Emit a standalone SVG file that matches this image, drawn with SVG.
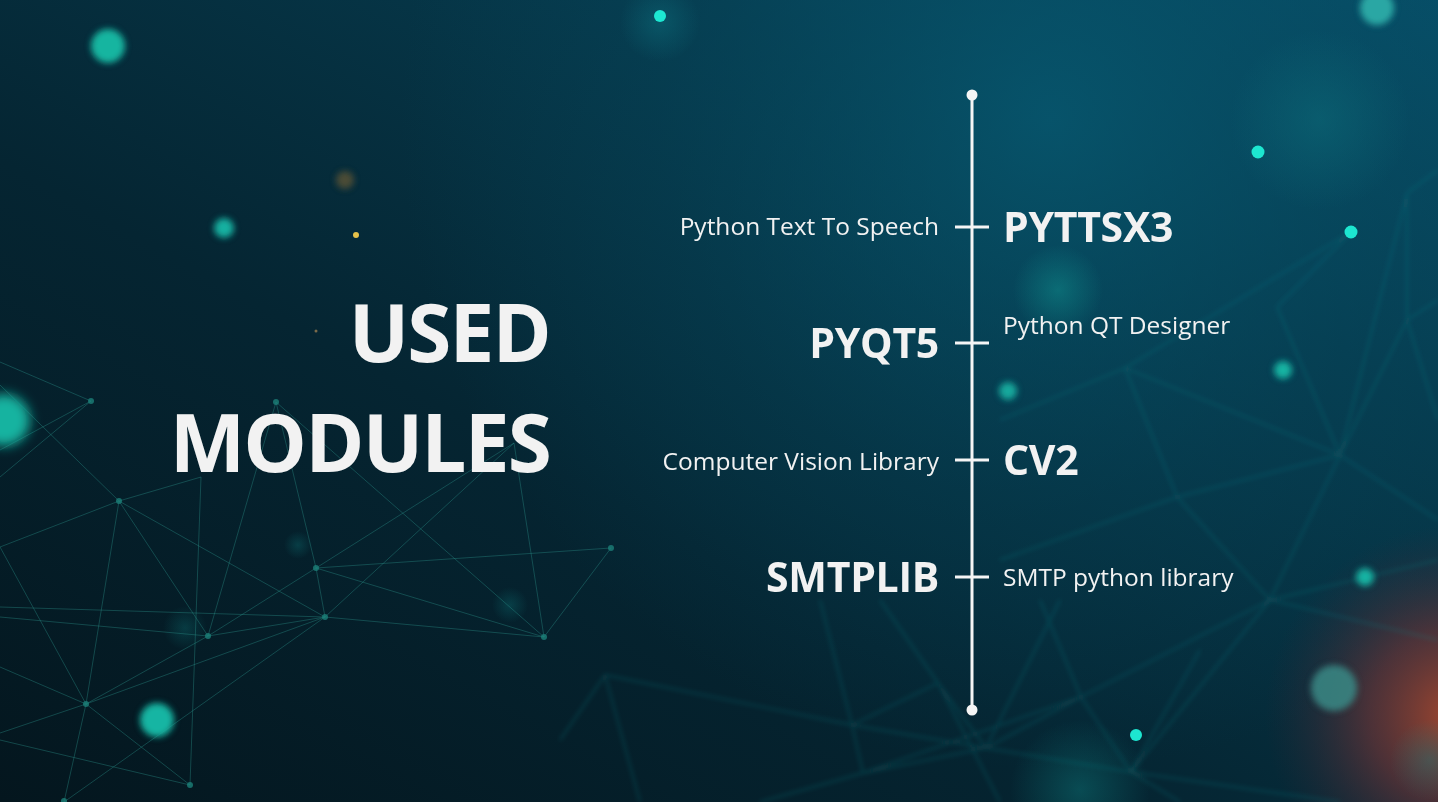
<svg xmlns="http://www.w3.org/2000/svg" width="1438" height="802" viewBox="0 0 1438 802">
  <defs>
    <linearGradient id="bgBase" x1="0" y1="1" x2="1" y2="0">
      <stop offset="0" stop-color="#04161e"/>
      <stop offset="0.4" stop-color="#052532"/>
      <stop offset="0.75" stop-color="#063b4e"/>
      <stop offset="1" stop-color="#07506a"/>
    </linearGradient>
    <radialGradient id="skyGlow" cx="1050" cy="120" r="650" gradientUnits="userSpaceOnUse">
      <stop offset="0" stop-color="#075a72" stop-opacity="0.75"/>
      <stop offset="0.6" stop-color="#064a60" stop-opacity="0.3"/>
      <stop offset="1" stop-color="#064a60" stop-opacity="0"/>
    </radialGradient>
    <radialGradient id="emberGlow" cx="1455" cy="715" r="190" gradientUnits="userSpaceOnUse">
      <stop offset="0" stop-color="#a8482e" stop-opacity="0.95"/>
      <stop offset="0.45" stop-color="#7a3434" stop-opacity="0.6"/>
      <stop offset="1" stop-color="#3a2535" stop-opacity="0"/>
    </radialGradient>
    <radialGradient id="haze" cx="0.5" cy="0.5" r="0.5">
      <stop offset="0" stop-color="#0f8a8a" stop-opacity="0.55"/>
      <stop offset="1" stop-color="#0f8a8a" stop-opacity="0"/>
    </radialGradient>
    <radialGradient id="hazeBlue" cx="0.5" cy="0.5" r="0.5">
      <stop offset="0" stop-color="#0c6a78" stop-opacity="0.55"/>
      <stop offset="1" stop-color="#0c6a78" stop-opacity="0"/>
    </radialGradient>
    <filter id="soft" x="-100%" y="-100%" width="300%" height="300%">
      <feGaussianBlur stdDeviation="3"/>
    </filter>
    <filter id="softer" x="-100%" y="-100%" width="300%" height="300%">
      <feGaussianBlur stdDeviation="6"/>
    </filter>
    <filter id="fuzz" x="-10%" y="-10%" width="120%" height="120%">
      <feGaussianBlur stdDeviation="2.2"/>
    </filter>
    <style>
      .net { stroke: #2a8f88; stroke-opacity: 0.4; stroke-width: 1; fill: none; }
      .net-far { stroke: #1f8a8c; stroke-opacity: 0.22; stroke-width: 2.4; fill: none; }
      .vertex { fill: #1c7f78; fill-opacity: 0.8; }
      .title { font-family: "Open Sans", "Liberation Sans", sans-serif; font-weight: 700; font-size: 80px; fill: #f2f2f2; text-anchor: end; letter-spacing: -1.8px; }
      .module { font-family: "Open Sans", "Liberation Sans", sans-serif; font-weight: 700; font-size: 41px; fill: #f2f2f2; letter-spacing: -0.3px; }
      .desc { font-family: "Open Sans", "Liberation Sans", sans-serif; font-size: 24.5px; fill: #f2f2f2; }
      .axis { stroke: #f5f5f5; stroke-width: 3; fill: none; }
      .tick { stroke: #f5f5f5; stroke-width: 3; }
      .cap { fill: #f5f5f5; }
    </style>
  </defs>

  <!-- backdrop -->
  <rect width="1438" height="802" fill="url(#bgBase)"/>
  <rect width="1438" height="802" fill="url(#skyGlow)"/>
  <rect width="1438" height="802" fill="url(#emberGlow)"/>

  <!-- soft haze blobs -->
  <circle cx="1320" cy="120" r="90" fill="url(#hazeBlue)"/>
  <circle cx="1058" cy="290" r="45" fill="url(#haze)"/>
  <circle cx="660" cy="22" r="40" fill="url(#hazeBlue)"/>
  <circle cx="1080" cy="790" r="70" fill="url(#haze)" opacity="0.7"/>
  <circle cx="1430" cy="760" r="40" fill="url(#haze)" opacity="0.6"/>
  <circle cx="185" cy="628" r="22" fill="url(#haze)" opacity="0.5"/>
  <circle cx="510" cy="605" r="18" fill="url(#haze)" opacity="0.5"/>
  <circle cx="298" cy="545" r="14" fill="url(#haze)" opacity="0.5"/>

  <!-- distant network, right -->
  <g filter="url(#fuzz)">
    <path class="net-far" d="M1351 232 L1125 368 L1000 420 M1125 368 L1177 497 L1340 455 L1407 320 L1438 300 M1407 193 L1407 320 L1438 420 M1407 193 L1340 455 L1270 600 L1438 640 M1125 368 L1340 455 L1438 520 M1177 497 L1000 560 M1177 497 L1270 600 L1131 772 M1277 307 L1351 232 M1277 307 L1340 455 M1407 193 L1438 170 M1270 600 L1438 560"/>
    <path class="net-far" d="M605 675 L852 725 L986 748 L1131 772 L1340 802 M605 675 L640 802 M605 675 L560 740 M852 725 L863 773 L986 748 L938 683 L852 725 M863 773 L1081 697 L1270 600 M938 683 L880 600 M986 748 L1081 697 L1131 772 L1180 802 M852 725 L820 600 M863 773 L760 802 M1081 697 L1040 600 M938 683 L1000 802 M986 748 L1060 600 M1131 772 L1200 650"/>
  </g>

  <!-- near network, left -->
  <g>
    <path class="net" d="M0 362 L91 401 L0 450 M91 401 L0 477 M0 385 L119 501 L201 477 M119 501 L0 547 M119 501 L208 636 M119 501 L86 704 M119 501 L325 617 M201 477 L190 785 M276 402 L208 636 M276 402 L316 568 M276 402 L544 637 M316 568 L325 617 M316 568 L514 443 M316 568 L544 637 M316 568 L611 548 M316 568 L208 636 M325 617 L208 636 M325 617 L544 637 M325 617 L514 443 M325 617 L86 704 M0 607 L325 617 M325 617 L64 802 M0 617 L208 636 M208 636 L86 704 M514 443 L544 637 M611 548 L544 637 M86 704 L0 733 M86 704 L190 785 M86 704 L64 802 M0 667 L86 704 M0 547 L86 704 M0 740 L190 785"/>
    <g class="vertex">
      <circle cx="91" cy="401" r="3"/>
      <circle cx="119" cy="501" r="3"/>
      <circle cx="276" cy="402" r="3"/>
      <circle cx="316" cy="568" r="3"/>
      <circle cx="325" cy="617" r="3"/>
      <circle cx="208" cy="636" r="3"/>
      <circle cx="86" cy="704" r="3"/>
      <circle cx="190" cy="785" r="3"/>
      <circle cx="611" cy="548" r="3"/>
      <circle cx="544" cy="637" r="3"/>
      <circle cx="64" cy="801" r="3"/>
    </g>
  </g>

  <!-- bokeh lights -->
  <g filter="url(#soft)">
    <circle cx="108" cy="46" r="17" fill="#18b5a0"/>
    <circle cx="224" cy="228" r="10" fill="#14b0a0"/>
    <circle cx="345" cy="180" r="9" fill="#6a5a35" opacity="0.7"/>
    <circle cx="157" cy="720" r="17" fill="#16b5a3"/>
    <circle cx="1377" cy="8" r="17" fill="#2aa7a4"/>
    <circle cx="1283" cy="370" r="9" fill="#16b4a3"/>
    <circle cx="1008" cy="391" r="9" fill="#15a99d"/>
    <circle cx="1365" cy="577" r="9" fill="#17b3a3"/>
    <circle cx="1334" cy="688" r="23" fill="#3a8a86" opacity="0.85"/>
  </g>
  <g filter="url(#softer)">
    <circle cx="4" cy="420" r="26" fill="#12b3a0"/>
  </g>
  <g>
    <circle cx="356" cy="235" r="3" fill="#e6c24a"/>
    <circle cx="316" cy="331" r="1.5" fill="#7a6a4a"/>
    <circle cx="660" cy="16" r="6" fill="#1de8d2"/>
    <circle cx="1258" cy="152" r="6.5" fill="#1de6d0"/>
    <circle cx="1351" cy="232" r="6.5" fill="#1de6d0"/>
    <circle cx="1136" cy="735" r="6" fill="#1de6d0"/>
  </g>

  <!-- heading -->
  <g id="heading">
    <text class="title" x="550" y="362">USED</text>
    <text class="title" x="550" y="472">MODULES</text>
  </g>

  <!-- timeline spine -->
  <g id="connectors">
    <line class="axis" x1="972" y1="95" x2="972" y2="710"/>
    <circle class="cap" cx="972" cy="95" r="5.5"/>
    <circle class="cap" cx="972" cy="710" r="5.5"/>
    <line class="tick" x1="955" y1="227" x2="989" y2="227"/>
    <line class="tick" x1="955" y1="343" x2="989" y2="343"/>
    <line class="tick" x1="955" y1="460" x2="989" y2="460"/>
    <line class="tick" x1="955" y1="577" x2="989" y2="577"/>
  </g>

  <g id="node-pyttsx3">
    <text class="desc" x="939" y="235" text-anchor="end">Python Text To Speech</text>
    <text class="module" x="1003" y="242">PYTTSX3</text>
  </g>
  <g id="node-pyqt5">
    <text class="module" x="939" y="358" text-anchor="end">PYQT5</text>
    <text class="desc" x="1003" y="334">Python QT Designer</text>
  </g>
  <g id="node-cv2">
    <text class="desc" x="939" y="470" text-anchor="end">Computer Vision Library</text>
    <text class="module" x="1003" y="475">CV2</text>
  </g>
  <g id="node-smtplib">
    <text class="module" x="939" y="592" text-anchor="end">SMTPLIB</text>
    <text class="desc" x="1003" y="586">SMTP python library</text>
  </g>
</svg>
